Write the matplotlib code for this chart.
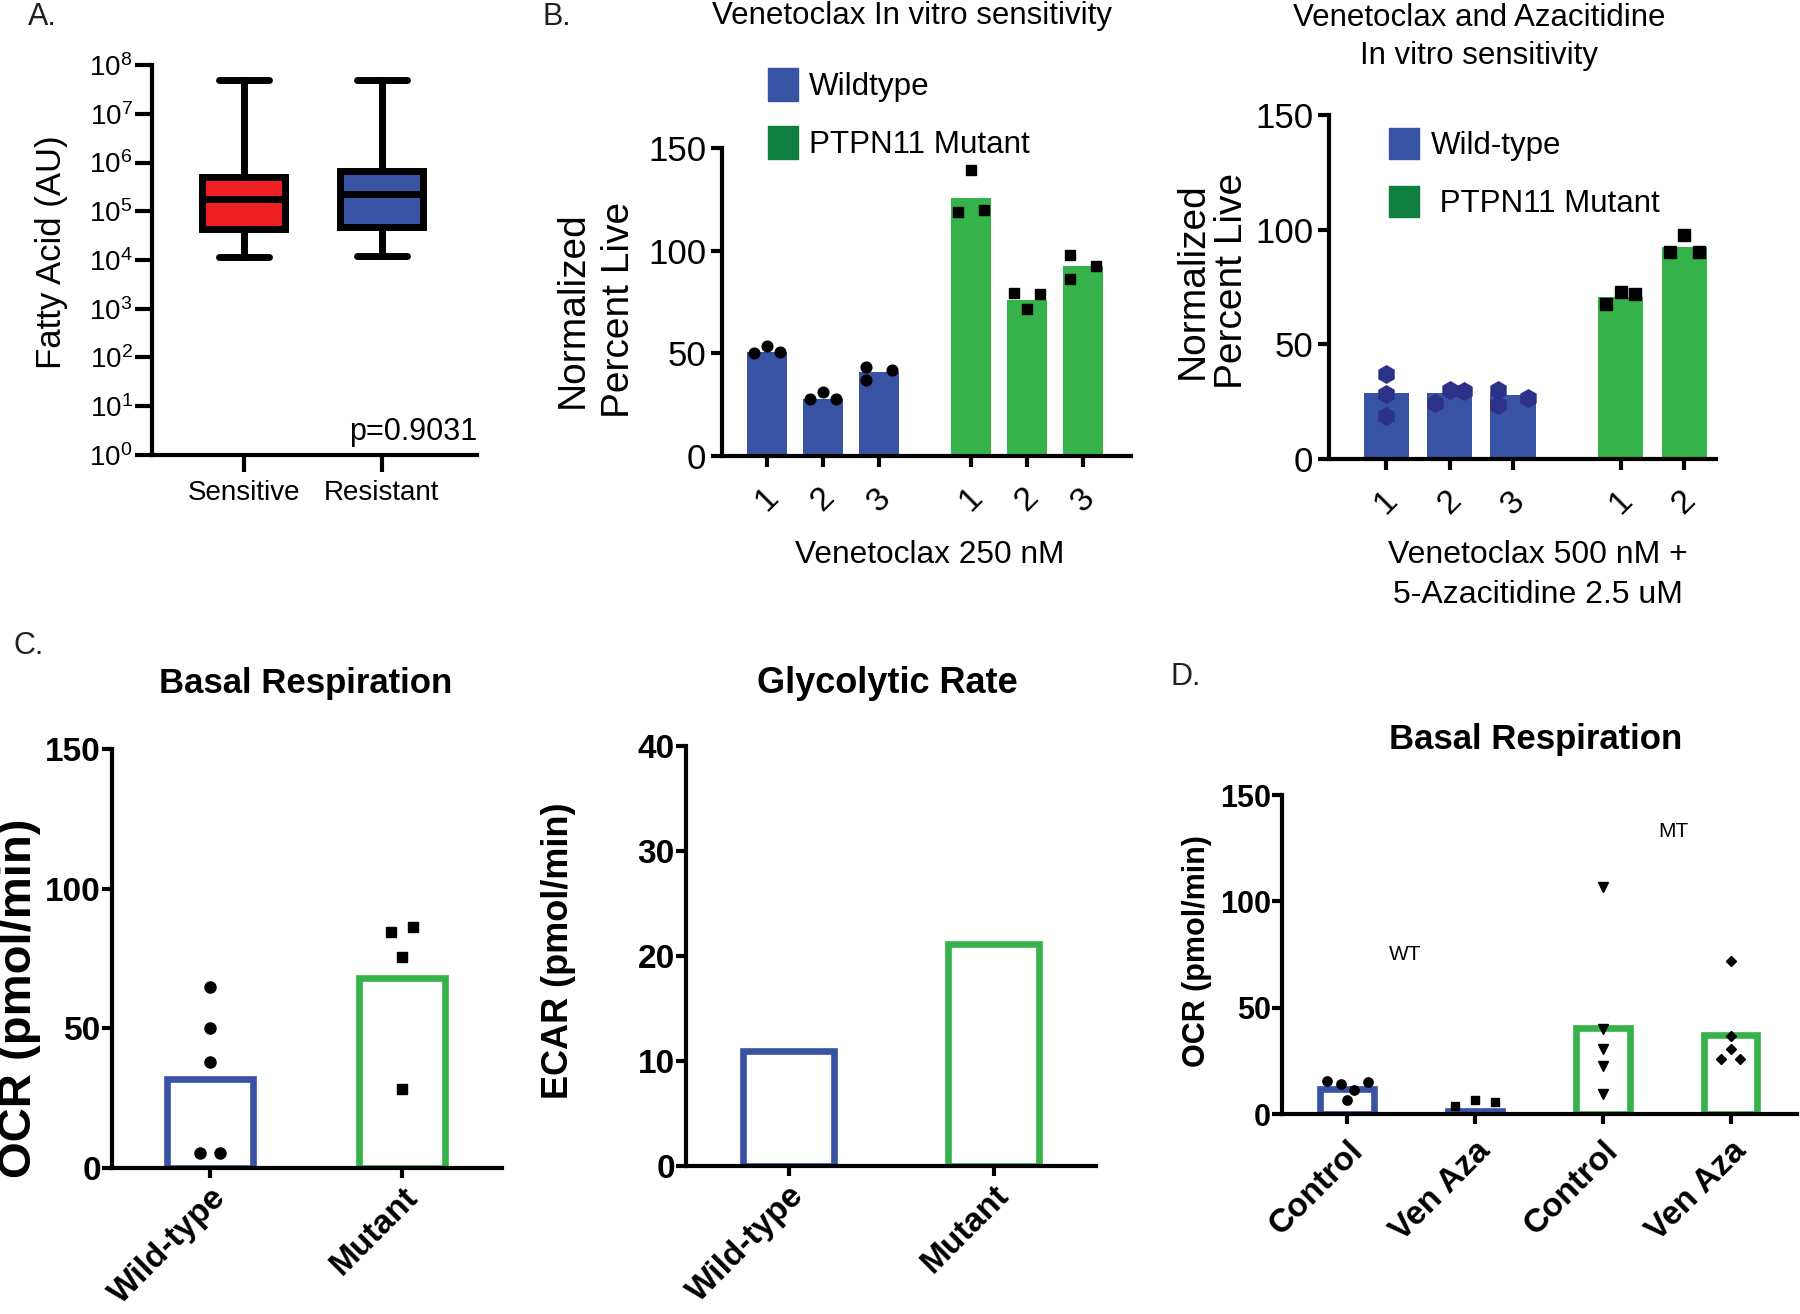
import numpy as np
import matplotlib
matplotlib.use('Agg')
import matplotlib.pyplot as plt
from matplotlib import font_manager
from matplotlib.patches import Patch
from matplotlib.ticker import LogLocator, LogFormatterMathtext, NullLocator

# --- data ---
# A: fatty acid box plot (log scale)
A_groups = ['Sensitive', 'Resistant']
A_med = [1.8e5, 2.3e5]
A_q1 = [4.4e4, 4.8e4]
A_q3 = [5.1e5, 6.8e5]
A_lo = [1.14e4, 1.23e4]
A_hi = [5.0e7, 5.0e7]
A_pval = 'p=0.9031'

# B left: venetoclax 250 nM
B1_wt_bars = [50.5, 27.9, 40.9]
B1_wt_pts = [[50.3, 53.6, 50.7], [27.7, 31.3, 27.9], [43.2, 37.0, 41.9]]
B1_mut_bars = [125.7, 76.0, 92.3]
B1_mut_pts = [[118.8, 139.4, 119.9], [79.4, 71.8, 78.9], [97.7, 86.4, 92.3]]
B1_ticklabels = ['1', '2', '3', '1', '2', '3']

# B right: venetoclax 500 nM + azacitidine
B2_wt_bars = [28.8, 28.8, 28.0]
B2_wt_pts = [[36.9, 28.3, 18.9], [24.5, 30.0, 29.7], [30.0, 23.5, 26.6]]
B2_mut_bars = [70.8, 92.6]
B2_mut_pts = [[67.7, 72.9, 72.0], [90.3, 97.7, 90.3]]
B2_ticklabels = ['1', '2', '3', '1', '2']

# C: basal respiration / glycolytic rate
C_groups = ['Wild-type', 'Mutant']
C_ocr_bars = [31.7, 68.0]
C_ocr_wt_pts = [64.9, 50.2, 38.0, 5.3, 5.3]
C_ocr_mut_pts = [84.6, 86.4, 75.6, 28.4]
C_ecar_bars = [11.0, 21.1]

# D: basal respiration with treatment
D_groups = ['Control', 'Ven Aza', 'Control', 'Ven Aza']
D_bars = [11.7, 1.6, 40.5, 37.2]
D_pts = [[15.4, 13.9, 11.5, 15.2, 6.7],
         [3.8, 6.5, 5.7],
         [106.9, 39.8, 30.4, 22.6, 9.4],
         [72.0, 36.8, 30.6, 26.0, 26.0]]

# --- style ---
W, H = 1800, 1314
BLUE = '#3953a4'
GREEN = '#35b34a'
DKGREEN = '#0f7f3f'
RED = '#ee2024'
NAVY = '#2b3288'

names = {f.name for f in font_manager.fontManager.ttflist}
NARROW = 'Liberation Sans Narrow' if 'Liberation Sans Narrow' in names else 'Liberation Sans'
plt.rcParams['font.family'] = ['Liberation Sans', 'DejaVu Sans']
plt.rcParams['mathtext.default'] = 'regular'

# jitter patterns (fraction of category spacing)
J = 0.23
B1_wt_jit = [[-J, 0, J], [-J, 0, J], [-J, -J, J]]
B1_mut_jit = [[-J, 0, J], [-J, 0, J], [-J, -J, J]]
B2_wt_jit = [[0, 0, 0], [-J, 0, J], [-J, -J, J]]
B2_mut_jit = [[-J, 0, J], [-J, 0, J]]
C_wt_jit = [0, 0, 0, -0.053, 0.053]
C_mut_jit = [-0.056, 0.056, 0, 0]
D_jit = [[-0.16, -0.05, 0.055, 0.163, 0], [-0.16, 0, 0.16],
         [0, 0, 0, 0, 0], [0, 0, 0, -0.075, 0.075]]
D_markers = [('o', 6.7), ('s', 6.2), ('v', 6.5), ('D', 4.6)]


def axes_px(fig, left, top, right, bottom):
    return fig.add_axes([left / W, 1 - bottom / H, (right - left) / W, (bottom - top) / H])


def clean(ax, lw=3, ticklen=8):
    for s in ['top', 'right']:
        ax.spines[s].set_visible(False)
    for s in ['left', 'bottom']:
        ax.spines[s].set_linewidth(lw)
    ax.tick_params(width=lw, length=ticklen, direction='out')


def ftext(x, y, s, **kw):
    fig.text(x / W, 1 - y / H, s, **kw)


fig = plt.figure(figsize=(18, 13.14), dpi=100)

# ---------------- A ----------------
ax = axes_px(fig, 152, 65, 477, 455)
stats = [dict(med=m, q1=a, q3=b, whislo=lo, whishi=hi, label=g)
         for g, m, a, b, lo, hi in zip(A_groups, A_med, A_q1, A_q3, A_lo, A_hi)]
bp = ax.bxp(stats, positions=[1, 2], widths=0.6, capwidths=0.36, patch_artist=True,
            showfliers=False,
            boxprops=dict(linewidth=5, edgecolor='k'),
            medianprops=dict(color='k', linewidth=5, solid_capstyle='round'),
            whiskerprops=dict(color='k', linewidth=5),
            capprops=dict(color='k', linewidth=5, solid_capstyle='round'))
for patch, c in zip(bp['boxes'], [RED, BLUE]):
    patch.set_facecolor(c)
ax.set_yscale('log')
ax.set_ylim(1, 1e8)
ax.yaxis.set_major_locator(LogLocator(base=10, numticks=12))
ax.yaxis.set_minor_locator(NullLocator())
ax.yaxis.set_major_formatter(LogFormatterMathtext())
ax.set_xlim(0.336, 2.69)
clean(ax, lw=3, ticklen=12)
ax.tick_params(axis='y', labelsize=20, pad=2)
ax.tick_params(axis='x', labelsize=20, pad=6)
ax.text(1.0, 0.059, A_pval, transform=ax.transAxes, ha='right', va='center', fontsize=22)
ftext(52, 252, 'Fatty Acid (AU)', rotation=90, ha='center', va='center', fontsize=25)
ftext(42, 17, 'A.', ha='center', va='center', fontsize=22, color='#231f20')

# ---------------- B left ----------------
ax = axes_px(fig, 722, 148, 1131, 456)
pos_wt = np.arange(1, 4)
pos_mut = np.arange(1, 4) + 3.64
ax.bar(pos_wt, B1_wt_bars, width=0.72, color=BLUE)
ax.bar(pos_mut, B1_mut_bars, width=0.72, color=GREEN)
for p, pts, jit in zip(pos_wt, B1_wt_pts, B1_wt_jit):
    ax.plot(p + np.array(jit), pts, 'o', ms=7.7, color='k', clip_on=False)
for p, pts, jit in zip(pos_mut, B1_mut_pts, B1_mut_jit):
    ax.plot(p + np.array(jit), pts, 's', ms=7.4, color='k', clip_on=False)
ax.set_ylim(0, 150)
ax.set_yticks([0, 50, 100, 150])
ax.set_xlim(0.196, 7.5)
ax.set_xticks(np.concatenate([pos_wt, pos_mut]))
ax.set_xticklabels(B1_ticklabels, rotation=45, ha='center', va='top', fontsize=24)
clean(ax, lw=3, ticklen=8)
ax.tick_params(axis='x', pad=11)
for lab in ax.get_yticklabels():
    lab.set_fontfamily(NARROW)
    lab.set_fontsize(25)
ax.legend(handles=[Patch(color=BLUE), Patch(color=DKGREEN)], labels=['Wildtype', 'PTPN11 Mutant'],
          loc='upper left', bbox_to_anchor=(768 / W, 1 - 68 / H), bbox_transform=fig.transFigure,
          frameon=False, borderpad=0, borderaxespad=0, handlelength=0.97, handleheight=1.22,
          handletextpad=0.33, labelspacing=0.78, prop={'family': NARROW, 'size': 22.6})
ftext(912, 16, 'Venetoclax In vitro sensitivity', ha='center', va='center', fontsize=22.5,
      family=NARROW)
ftext(596, 310, 'Normalized\nPercent Live', rotation=90, ha='center', va='center',
      fontsize=28, linespacing=1.35)
ftext(930, 555, 'Venetoclax 250 nM', ha='center', va='center', fontsize=22.8, family=NARROW)
ftext(557, 17, 'B.', ha='center', va='center', fontsize=22, color='#231f20')

# ---------------- B right ----------------
ax = axes_px(fig, 1329, 115, 1716, 459)
pos_wt = np.arange(1, 4)
pos_mut = np.arange(1, 3) + 3.70
ax.bar(pos_wt, B2_wt_bars, width=0.71, color=BLUE)
ax.bar(pos_mut, B2_mut_bars, width=0.71, color=GREEN)
for p, pts, jit in zip(pos_wt, B2_wt_pts, B2_wt_jit):
    ax.plot(p + np.array(jit), pts, 'h', ms=12.5, color=NAVY, clip_on=False)
for p, pts, jit in zip(pos_mut, B2_mut_pts, B2_mut_jit):
    ax.plot(p + np.array(jit), pts, 's', ms=8, color='k', clip_on=False)
ax.set_ylim(0, 150)
ax.set_yticks([0, 50, 100, 150])
ax.set_xlim(0.10, 6.20)
ax.set_xticks(np.concatenate([pos_wt, pos_mut]))
ax.set_xticklabels(B2_ticklabels, rotation=45, ha='center', va='top', fontsize=24)
clean(ax, lw=3, ticklen=8)
ax.tick_params(axis='x', pad=11)
for lab in ax.get_yticklabels():
    lab.set_fontfamily(NARROW)
    lab.set_fontsize(25)
ax.legend(handles=[Patch(color=BLUE), Patch(color=DKGREEN)], labels=['Wild-type', ' PTPN11 Mutant'],
          loc='upper left', bbox_to_anchor=(1389 / W, 1 - 128 / H), bbox_transform=fig.transFigure,
          frameon=False, borderpad=0, borderaxespad=0, handlelength=0.97, handleheight=1.16,
          handletextpad=0.38, labelspacing=0.8, prop={'family': NARROW, 'size': 22.5})
ftext(1479, 37, 'Venetoclax and Azacitidine\nIn vitro sensitivity', ha='center', va='center',
      fontsize=22.5, family=NARROW, linespacing=1.35)
ftext(1212, 281, 'Normalized\nPercent Live', rotation=90, ha='center', va='center',
      fontsize=28, linespacing=1.12)
ftext(1538, 575, 'Venetoclax 500 nM +\n5-Azacitidine 2.5 uM', ha='center', va='center',
      fontsize=23, family=NARROW, linespacing=1.4)

# ---------------- C left ----------------
ax = axes_px(fig, 112, 749, 502, 1168)
ax.bar([1, 2], C_ocr_bars, width=0.45, fill=False, edgecolor=[BLUE, GREEN], linewidth=4.8)
ax.plot(1 + np.array(C_wt_jit), C_ocr_wt_pts, 'o', ms=8, color='k', clip_on=False)
ax.plot(2 + np.array(C_mut_jit), C_ocr_mut_pts, 's', ms=7, color='k', clip_on=False)
ax.set_ylim(0, 150)
ax.set_yticks([0, 50, 100, 150])
ax.set_xlim(0.49, 2.52)
ax.set_xticks([1, 2])
ax.set_xticklabels(C_groups, rotation=45, ha='right', va='top', rotation_mode='anchor',
                   fontsize=24, fontweight='bold')
clean(ax, lw=3, ticklen=7)
ax.tick_params(axis='y', labelsize=24, pad=1)
ax.tick_params(axis='x', pad=3)
for lab in ax.get_yticklabels():
    lab.set_fontweight('bold')
ftext(306, 684, 'Basal Respiration', ha='center', va='center', fontsize=25, fontweight='bold')
ftext(19, 998, 'OCR (pmol/min)', rotation=90, ha='center', va='center', fontsize=34,
      fontweight='bold')
ftext(29, 646, 'C.', ha='center', va='center', fontsize=22, color='#231f20')

# ---------------- C right ----------------
ax = axes_px(fig, 686, 746, 1096, 1166)
ax.bar([1, 2], C_ecar_bars, width=0.44, fill=False, edgecolor=[BLUE, GREEN], linewidth=4.8)
ax.set_ylim(0, 40)
ax.set_yticks([0, 10, 20, 30, 40])
ax.set_xlim(0.50, 2.50)
ax.set_xticks([1, 2])
ax.set_xticklabels(C_groups, rotation=45, ha='right', va='top', rotation_mode='anchor',
                   fontsize=24, fontweight='bold')
clean(ax, lw=3, ticklen=7)
ax.tick_params(axis='y', labelsize=24, pad=1)
ax.tick_params(axis='x', pad=3)
for lab in ax.get_yticklabels():
    lab.set_fontweight('bold')
ftext(887, 683, 'Glycolytic Rate', ha='center', va='center', fontsize=26, fontweight='bold')
ftext(559, 951, 'ECAR (pmol/min)', rotation=90, ha='center', va='center', fontsize=26,
      fontweight='bold')

# ---------------- D ----------------
ax = axes_px(fig, 1282, 795, 1797, 1114)
pos = np.arange(1, 5)
ax.bar(pos, D_bars, width=0.42, fill=False, edgecolor=[BLUE, BLUE, GREEN, GREEN], linewidth=4.8)
for p, pts, jit, (mk, ms) in zip(pos, D_pts, D_jit, D_markers):
    ax.plot(p + np.array(jit), pts, mk, ms=ms, color='k', clip_on=False)
ax.set_ylim(0, 150)
ax.set_yticks([0, 50, 100, 150])
ax.set_xlim(0.49, 4.52)
ax.set_xticks(pos)
ax.set_xticklabels(D_groups, rotation=45, ha='right', va='top', rotation_mode='anchor',
                   fontsize=24, fontweight='bold')
clean(ax, lw=3, ticklen=7)
ax.tick_params(axis='y', labelsize=22, pad=1)
ax.tick_params(axis='x', pad=8)
for lab in ax.get_yticklabels():
    lab.set_fontweight('bold')
ax.text(1.45, 75, 'WT', ha='center', va='center', fontsize=15)
ax.text(3.55, 133, 'MT', ha='center', va='center', fontsize=15)
ftext(1536, 740, 'Basal Respiration', ha='center', va='center', fontsize=25, fontweight='bold')
ftext(1197, 951, 'OCR (pmol/min)', rotation=90, ha='center', va='center', fontsize=22,
      fontweight='bold')
ftext(1186, 677, 'D.', ha='center', va='center', fontsize=22, color='#231f20')

fig.savefig('out.png', dpi=100)
